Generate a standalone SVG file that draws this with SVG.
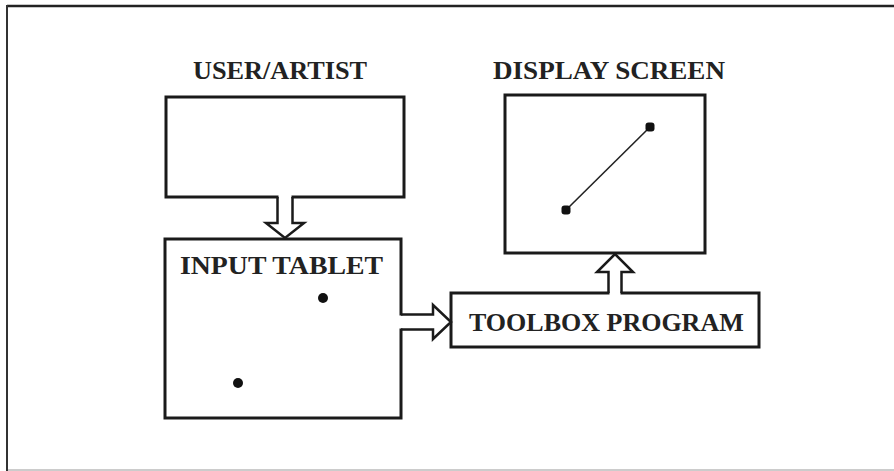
<svg xmlns="http://www.w3.org/2000/svg" width="894" height="471" viewBox="0 0 894 471">
<style>
.box{fill:#fff;stroke:#1a1a1a;stroke-width:3}
.lbl{font-family:"Liberation Serif","Times New Roman",serif;font-weight:bold;font-size:26px;fill:#222}
.arr{fill:none;stroke:#1a1a1a;stroke-width:2.5;stroke-linejoin:miter}
.cover{fill:#fff;stroke:none}
.dot{fill:#111}
</style>
<rect x="0" y="0" width="894" height="471" fill="#fff"/>
<g id="frame">
<path d="M7 6 H894" stroke="#222" stroke-width="2.5" fill="none"/>
<path d="M7 5 V471" stroke="#333" stroke-width="2" fill="none"/>
<path d="M8 470 H894" stroke="#bbb" stroke-width="1.5" fill="none"/>
</g>
<g id="user-artist">
<text class="lbl" x="193" y="79" textLength="174" lengthAdjust="spacingAndGlyphs">USER/ARTIST</text>
<rect class="box" x="166" y="97" width="238" height="100"/>
</g>
<g id="display-screen">
<text class="lbl" x="493" y="79" textLength="232" lengthAdjust="spacingAndGlyphs">DISPLAY SCREEN</text>
<rect class="box" x="505" y="95" width="200" height="158"/>
<line x1="566" y1="210" x2="650" y2="127" stroke="#222" stroke-width="1.6"/>
<rect class="dot" x="561.5" y="205.5" width="9" height="9" rx="3"/>
<rect class="dot" x="645.5" y="122.5" width="9" height="9" rx="3"/>
</g>
<g id="input-tablet">
<rect class="box" x="165" y="239" width="236" height="179"/>
<text class="lbl" x="180" y="274" textLength="203" lengthAdjust="spacingAndGlyphs">INPUT TABLET</text>
<circle class="dot" cx="323" cy="298" r="5"/>
<circle class="dot" cx="238" cy="383" r="5"/>
</g>
<g id="toolbox-program">
<rect class="box" x="451" y="293" width="308" height="54"/>
<text class="lbl" x="469" y="331">TOOLBOX PROGRAM</text>
</g>
<g id="connectors">
<polygon class="cover" points="278.5,194 278.5,223 266,223 285,238 304,223 291.5,223 291.5,194"/>
<polyline class="arr" points="277.5,197 277.5,223 266,223 285,238 304,223 292.5,223 292.5,197"/>
<polygon class="cover" points="398,315.5 433,315.5 433,305 452,322 433,339 433,328.5 398,328.5"/>
<polyline class="arr" points="401,314.5 433,314.5 433,305 451,322 433,339 433,329.5 401,329.5"/>
<polygon class="cover" points="609.5,296 609.5,272 597,272 615,254 633,272 620.5,272 620.5,296"/>
<polyline class="arr" points="608.5,293 608.5,272 597,272 615,254 633,272 621.5,272 621.5,293"/>
</g>
</svg>
